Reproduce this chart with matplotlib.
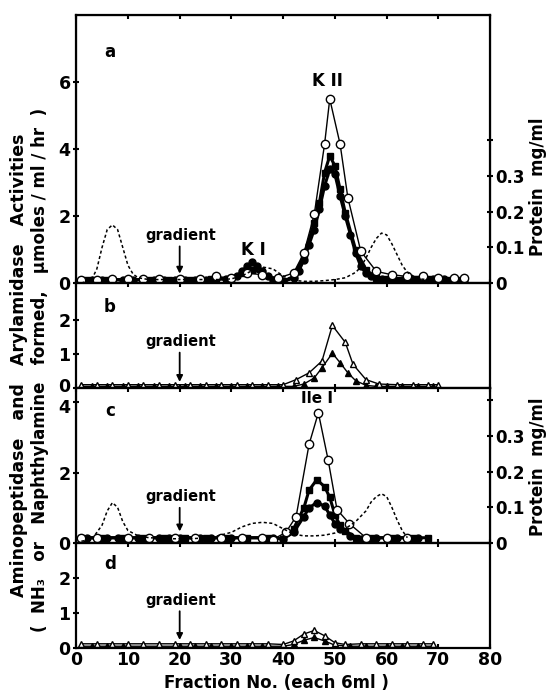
import numpy as np
import matplotlib
matplotlib.use("Agg")
import matplotlib.pyplot as plt
import matplotlib.transforms as mtransforms

plt.rcParams['font.family'] = ['DejaVu Sans']
plt.rcParams['font.weight'] = 'bold'

# ---- panel a ----
a_open_x = [1, 4, 7, 10, 13, 16, 20, 24, 27, 30, 33, 36, 39, 42, 44, 46, 48, 49, 51, 52.5, 55, 58, 61, 64, 67, 70, 73, 75]
a_open_y = [0.1, 0.1, 0.12, 0.12, 0.12, 0.12, 0.12, 0.13, 0.2, 0.15, 0.3, 0.25, 0.15, 0.3, 0.9, 2.05, 4.15, 5.5, 4.15, 2.55, 0.95, 0.35, 0.25, 0.2, 0.2, 0.15, 0.15, 0.15]
a_fc_x = [1, 3, 5, 7, 9, 11, 13, 15, 17, 19, 21, 23, 25, 27, 29, 31, 32, 33, 34, 35, 36, 37, 38, 40, 42, 43, 44, 45, 46, 47, 48, 49, 50, 51, 52, 53, 54, 55, 56, 57, 59, 61, 63, 65, 67, 69, 71, 73, 75]
a_fc_y = [0.1, 0.1, 0.1, 0.1, 0.1, 0.1, 0.1, 0.1, 0.1, 0.1, 0.1, 0.1, 0.1, 0.12, 0.12, 0.2, 0.35, 0.5, 0.62, 0.5, 0.35, 0.2, 0.1, 0.05, 0.15, 0.35, 0.7, 1.15, 1.6, 2.2, 2.9, 3.4, 3.25, 2.6, 2.0, 1.45, 0.9, 0.5, 0.3, 0.2, 0.12, 0.1, 0.1, 0.1, 0.12, 0.12, 0.12, 0.1, 0.1]
a_sq_x = [2, 6, 10, 14, 18, 22, 26, 30, 32, 34, 36, 38, 40, 42, 44, 46, 47, 48, 49, 50, 51, 52, 54, 56, 58, 60, 62, 64, 66, 68, 70, 72, 74]
a_sq_y = [0.1, 0.1, 0.1, 0.1, 0.1, 0.1, 0.12, 0.15, 0.3, 0.4, 0.3, 0.1, 0.05, 0.2, 0.8, 1.8, 2.4, 3.3, 3.8, 3.5, 2.8, 2.1, 1.0, 0.4, 0.15, 0.12, 0.1, 0.1, 0.1, 0.12, 0.12, 0.1, 0.1]
a_prot_x = [1, 3, 4, 5, 6, 7, 8, 9, 10, 11, 12, 14, 16, 18, 20, 22, 24, 26, 28, 30, 32, 34, 36, 38, 40, 42, 44, 46, 48, 50, 52, 54, 55, 56, 57, 58, 59, 60, 61, 62, 63, 64, 66, 68]
a_prot_y = [0.0, 0.01, 0.04, 0.1, 0.15, 0.163, 0.15, 0.1, 0.05, 0.025, 0.015, 0.01, 0.01, 0.01, 0.01, 0.01, 0.01, 0.01, 0.01, 0.012, 0.02, 0.035, 0.045, 0.04, 0.02, 0.008, 0.005, 0.005, 0.007, 0.01, 0.015, 0.03, 0.045, 0.07, 0.1, 0.125, 0.14, 0.135, 0.11, 0.08, 0.05, 0.03, 0.012, 0.01]

# ---- panel b ----
b_open_x = [1, 4, 7, 10, 13, 16, 19, 22, 25, 28, 31, 34, 37, 40, 42.5, 45, 47.5, 49.5, 52, 53.5, 56, 58.5, 62, 65, 68, 70]
b_open_y = [0.1, 0.1, 0.1, 0.1, 0.1, 0.1, 0.1, 0.1, 0.1, 0.1, 0.1, 0.1, 0.1, 0.1, 0.25, 0.45, 0.8, 1.85, 1.35, 0.7, 0.25, 0.12, 0.1, 0.1, 0.1, 0.1]
b_fill_x = [1, 3, 6, 9, 12, 15, 18, 21, 24, 27, 30, 33, 36, 39, 42, 44, 46, 47.5, 49.5, 51, 52.5, 54, 56, 58, 60, 63, 66, 69]
b_fill_y = [0.05, 0.05, 0.05, 0.05, 0.05, 0.05, 0.05, 0.05, 0.05, 0.05, 0.05, 0.05, 0.05, 0.05, 0.05, 0.12, 0.3, 0.6, 1.03, 0.75, 0.45, 0.22, 0.08, 0.05, 0.05, 0.05, 0.05, 0.05]

# ---- panel c ----
c_open_x = [1, 4, 10, 14, 19, 23, 28, 32, 36, 38, 40.5, 42.5, 45, 46.8, 48.7, 50.4, 52.8, 56, 60, 64]
c_open_y = [0.15, 0.15, 0.15, 0.15, 0.15, 0.15, 0.15, 0.15, 0.15, 0.1, 0.3, 0.75, 2.8, 3.7, 2.35, 0.95, 0.55, 0.15, 0.15, 0.15]
c_sq_x = [1, 5, 9, 13, 17, 21, 25, 29, 33, 37, 40, 42, 44, 45, 46.5, 48, 49, 50, 51, 52, 54, 57, 61, 65, 68]
c_sq_y = [0.15, 0.15, 0.15, 0.15, 0.15, 0.15, 0.15, 0.15, 0.15, 0.15, 0.12, 0.4, 1.0, 1.5, 1.8, 1.6, 1.3, 0.8, 0.5, 0.35, 0.15, 0.15, 0.15, 0.15, 0.15]
c_fc_x = [2, 6, 8, 12, 14, 16, 18, 20, 24, 26, 30, 32, 36, 38, 40, 42, 44, 45, 46.5, 48, 49, 50, 51, 53, 55, 58, 60, 62, 64, 66]
c_fc_y = [0.15, 0.15, 0.15, 0.15, 0.15, 0.15, 0.15, 0.15, 0.15, 0.15, 0.15, 0.15, 0.15, 0.15, 0.12, 0.3, 0.75, 1.0, 1.15, 1.05, 0.8, 0.55, 0.4, 0.2, 0.12, 0.15, 0.15, 0.15, 0.15, 0.15]
c_prot_x = [1, 3, 5, 6, 7, 8, 9, 10, 12, 14, 18, 22, 26, 30, 32, 34, 36, 38, 40, 42, 44, 46, 48, 50, 52, 54, 56, 57, 58, 59, 60, 61, 62, 63, 64]
c_prot_y = [0.005, 0.01, 0.05, 0.09, 0.113, 0.1, 0.06, 0.035, 0.02, 0.015, 0.012, 0.012, 0.015, 0.03, 0.045, 0.055, 0.058, 0.055, 0.04, 0.025, 0.02, 0.02, 0.022, 0.028, 0.04, 0.06, 0.09, 0.115, 0.13, 0.138, 0.13, 0.1, 0.065, 0.035, 0.015]

# ---- panel d ----
d_open_x = [1, 4, 7, 10, 13, 16, 19, 22, 25, 28, 31, 34, 37, 40, 42, 44, 46, 48, 50, 52, 55, 58, 61, 64, 67, 69]
d_open_y = [0.12, 0.12, 0.12, 0.12, 0.12, 0.12, 0.12, 0.12, 0.12, 0.12, 0.12, 0.12, 0.12, 0.1, 0.2, 0.4, 0.5, 0.35, 0.15, 0.1, 0.12, 0.12, 0.12, 0.12, 0.12, 0.12]
d_fill_x = [1, 3, 6, 9, 13, 16, 20, 23, 26, 30, 33, 36, 40, 42, 44, 46, 48, 50, 53, 56, 60, 63, 66, 69]
d_fill_y = [0.05, 0.05, 0.05, 0.05, 0.05, 0.05, 0.05, 0.05, 0.05, 0.05, 0.05, 0.05, 0.05, 0.1, 0.22, 0.3, 0.2, 0.08, 0.05, 0.05, 0.05, 0.05, 0.05, 0.05]

x_ticks = [0, 10, 20, 30, 40, 50, 60, 70, 80]

fig = plt.figure(figsize=(5.52, 6.92), dpi=100)
gs = fig.add_gridspec(4, 1, height_ratios=[268, 105, 155, 105], hspace=0,
                      left=0.138, right=0.888, top=0.978, bottom=0.0636)
axes = [fig.add_subplot(gs[i]) for i in range(4)]

thin = dict(color='black', lw=1.0)
thick = dict(color='black', lw=2.2)
prot = dict(color='black', lw=1.1, ls=(0, (2, 1.6)))

def openm(m, ms=5.5):
    return dict(marker=m, ms=ms, mfc='white', mec='black', mew=1.0)

def fillm(m, ms=5.5):
    return dict(marker=m, ms=ms, mfc='black', mec='black')

ax = axes[0]
ax.plot(a_fc_x, a_fc_y, **thick, **fillm('o', 5))
ax.plot(a_sq_x, a_sq_y, **thick, **fillm('s', 5))
ax.plot(a_open_x, a_open_y, **thin, **openm('o', 6))
ax.set_ylim(0, 8)
ax.set_yticks([0, 2, 4, 6])
pa = ax.twinx()
pa.plot(a_prot_x, a_prot_y, **prot)
pa.set_ylim(0, 0.75)

ax = axes[1]
ax.plot(b_fill_x, b_fill_y, **thin, **fillm('^', 4.5))
ax.plot(b_open_x, b_open_y, **thin, **openm('^', 5))
ax.set_ylim(0, 3.1)
ax.set_yticks([0, 1, 2])

ax = axes[2]
ax.plot(c_fc_x, c_fc_y, **thick, **fillm('o', 5))
ax.plot(c_sq_x, c_sq_y, **thick, **fillm('s', 5))
ax.plot(c_open_x, c_open_y, **thin, **openm('o', 6))
ax.set_ylim(0, 4.4)
ax.set_yticks([0, 2, 4])
pc = ax.twinx()
pc.plot(c_prot_x, c_prot_y, **prot)
pc.set_ylim(0, 0.434)

ax = axes[3]
ax.plot(d_fill_x, d_fill_y, **thin, **fillm('^', 4.5))
ax.plot(d_open_x, d_open_y, **thin, **openm('^', 5))
ax.set_ylim(0, 3.0)
ax.set_yticks([0, 1, 2])

for i, ax in enumerate(axes):
    ax.set_xlim(0, 80)
    ax.set_xticks(x_ticks)
    ax.tick_params(axis='x', direction='in', top=True, bottom=True, length=3, width=1.5,
                   labelbottom=(i == 3), labelsize=12.5, pad=2)
    ax.tick_params(axis='y', direction='inout', length=4, width=1.5, labelsize=12.5, pad=2)
    for s in ax.spines.values():
        s.set_linewidth(1.6)
    for lab in ax.get_xticklabels() + ax.get_yticklabels():
        lab.set_fontweight('bold')

# keep the stacked "0" (panel b) and "4" (panel c) labels apart
fig.canvas.draw()
down = mtransforms.ScaledTranslation(0, -4 / 100, fig.dpi_scale_trans)
up = mtransforms.ScaledTranslation(0, 3 / 100, fig.dpi_scale_trans)
axes[2].get_yticklabels()[-1].set_transform(axes[2].get_yticklabels()[-1].get_transform() + down)
axes[1].get_yticklabels()[0].set_transform(axes[1].get_yticklabels()[0].get_transform() + up)

for p in (pa, pc):
    p.set_yticks([0, 0.1, 0.2, 0.3, 0.4])
    p.set_yticklabels(['0', '0.1', '0.2', '0.3', ''])
    p.tick_params(axis='y', direction='inout', length=4, width=1.5, labelsize=12, pad=2)
    for lab in p.get_yticklabels():
        lab.set_fontweight('bold')

# panel letters and labels
tk = dict(fontsize=12, fontweight='bold', ha='center', va='center')
axes[0].text(6.5, 6.9, 'a', **tk)
axes[1].text(6.5, 2.4, 'b', **tk)
axes[2].text(6.5, 3.75, 'c', **tk)
axes[3].text(6.5, 2.4, 'd', **tk)
axes[0].text(48.5, 6.05, 'K II', **tk)
axes[0].text(34.2, 1.0, 'K I', **tk)
axes[2].text(46.5, 4.1, 'Ile I', fontsize=11, fontweight='bold', ha='center', va='center')

gk = dict(fontsize=10.5, fontweight='bold', ha='center', va='bottom')
arr = dict(arrowstyle='-|>', color='black', lw=1.3, mutation_scale=9)
for ax, ytext, ytip in [(axes[0], 1.2, 0.2), (axes[1], 1.15, 0.1), (axes[2], 1.1, 0.25), (axes[3], 1.15, 0.15)]:
    ax.text(20.3, ytext, 'gradient', **gk)
    ax.annotate('', xy=(20, ytip), xytext=(20, ytext - 0.02), arrowprops=arr)

fig.text(0.5, 0.013, 'Fraction No. (each 6ml )', ha='center', va='center', fontsize=12, fontweight='bold')
fig.text(0.035, 0.472, 'Aminopeptidase   and   Arylamidase   Activities', rotation=90,
         ha='center', va='center', fontsize=12.5, fontweight='bold')
fig.text(0.072, 0.466, '(  NH\u2083   or   Naphthylamine   formed,   \u00b5moles / ml / hr  )', rotation=90,
         ha='center', va='center', fontsize=12, fontweight='bold')
fig.text(0.975, 0.73, 'Protein  mg/ml', rotation=90, ha='center', va='center', fontsize=12, fontweight='bold')
fig.text(0.975, 0.325, 'Protein  mg/ml', rotation=90, ha='center', va='center', fontsize=12, fontweight='bold')

fig.savefig('out.png', dpi=100)
